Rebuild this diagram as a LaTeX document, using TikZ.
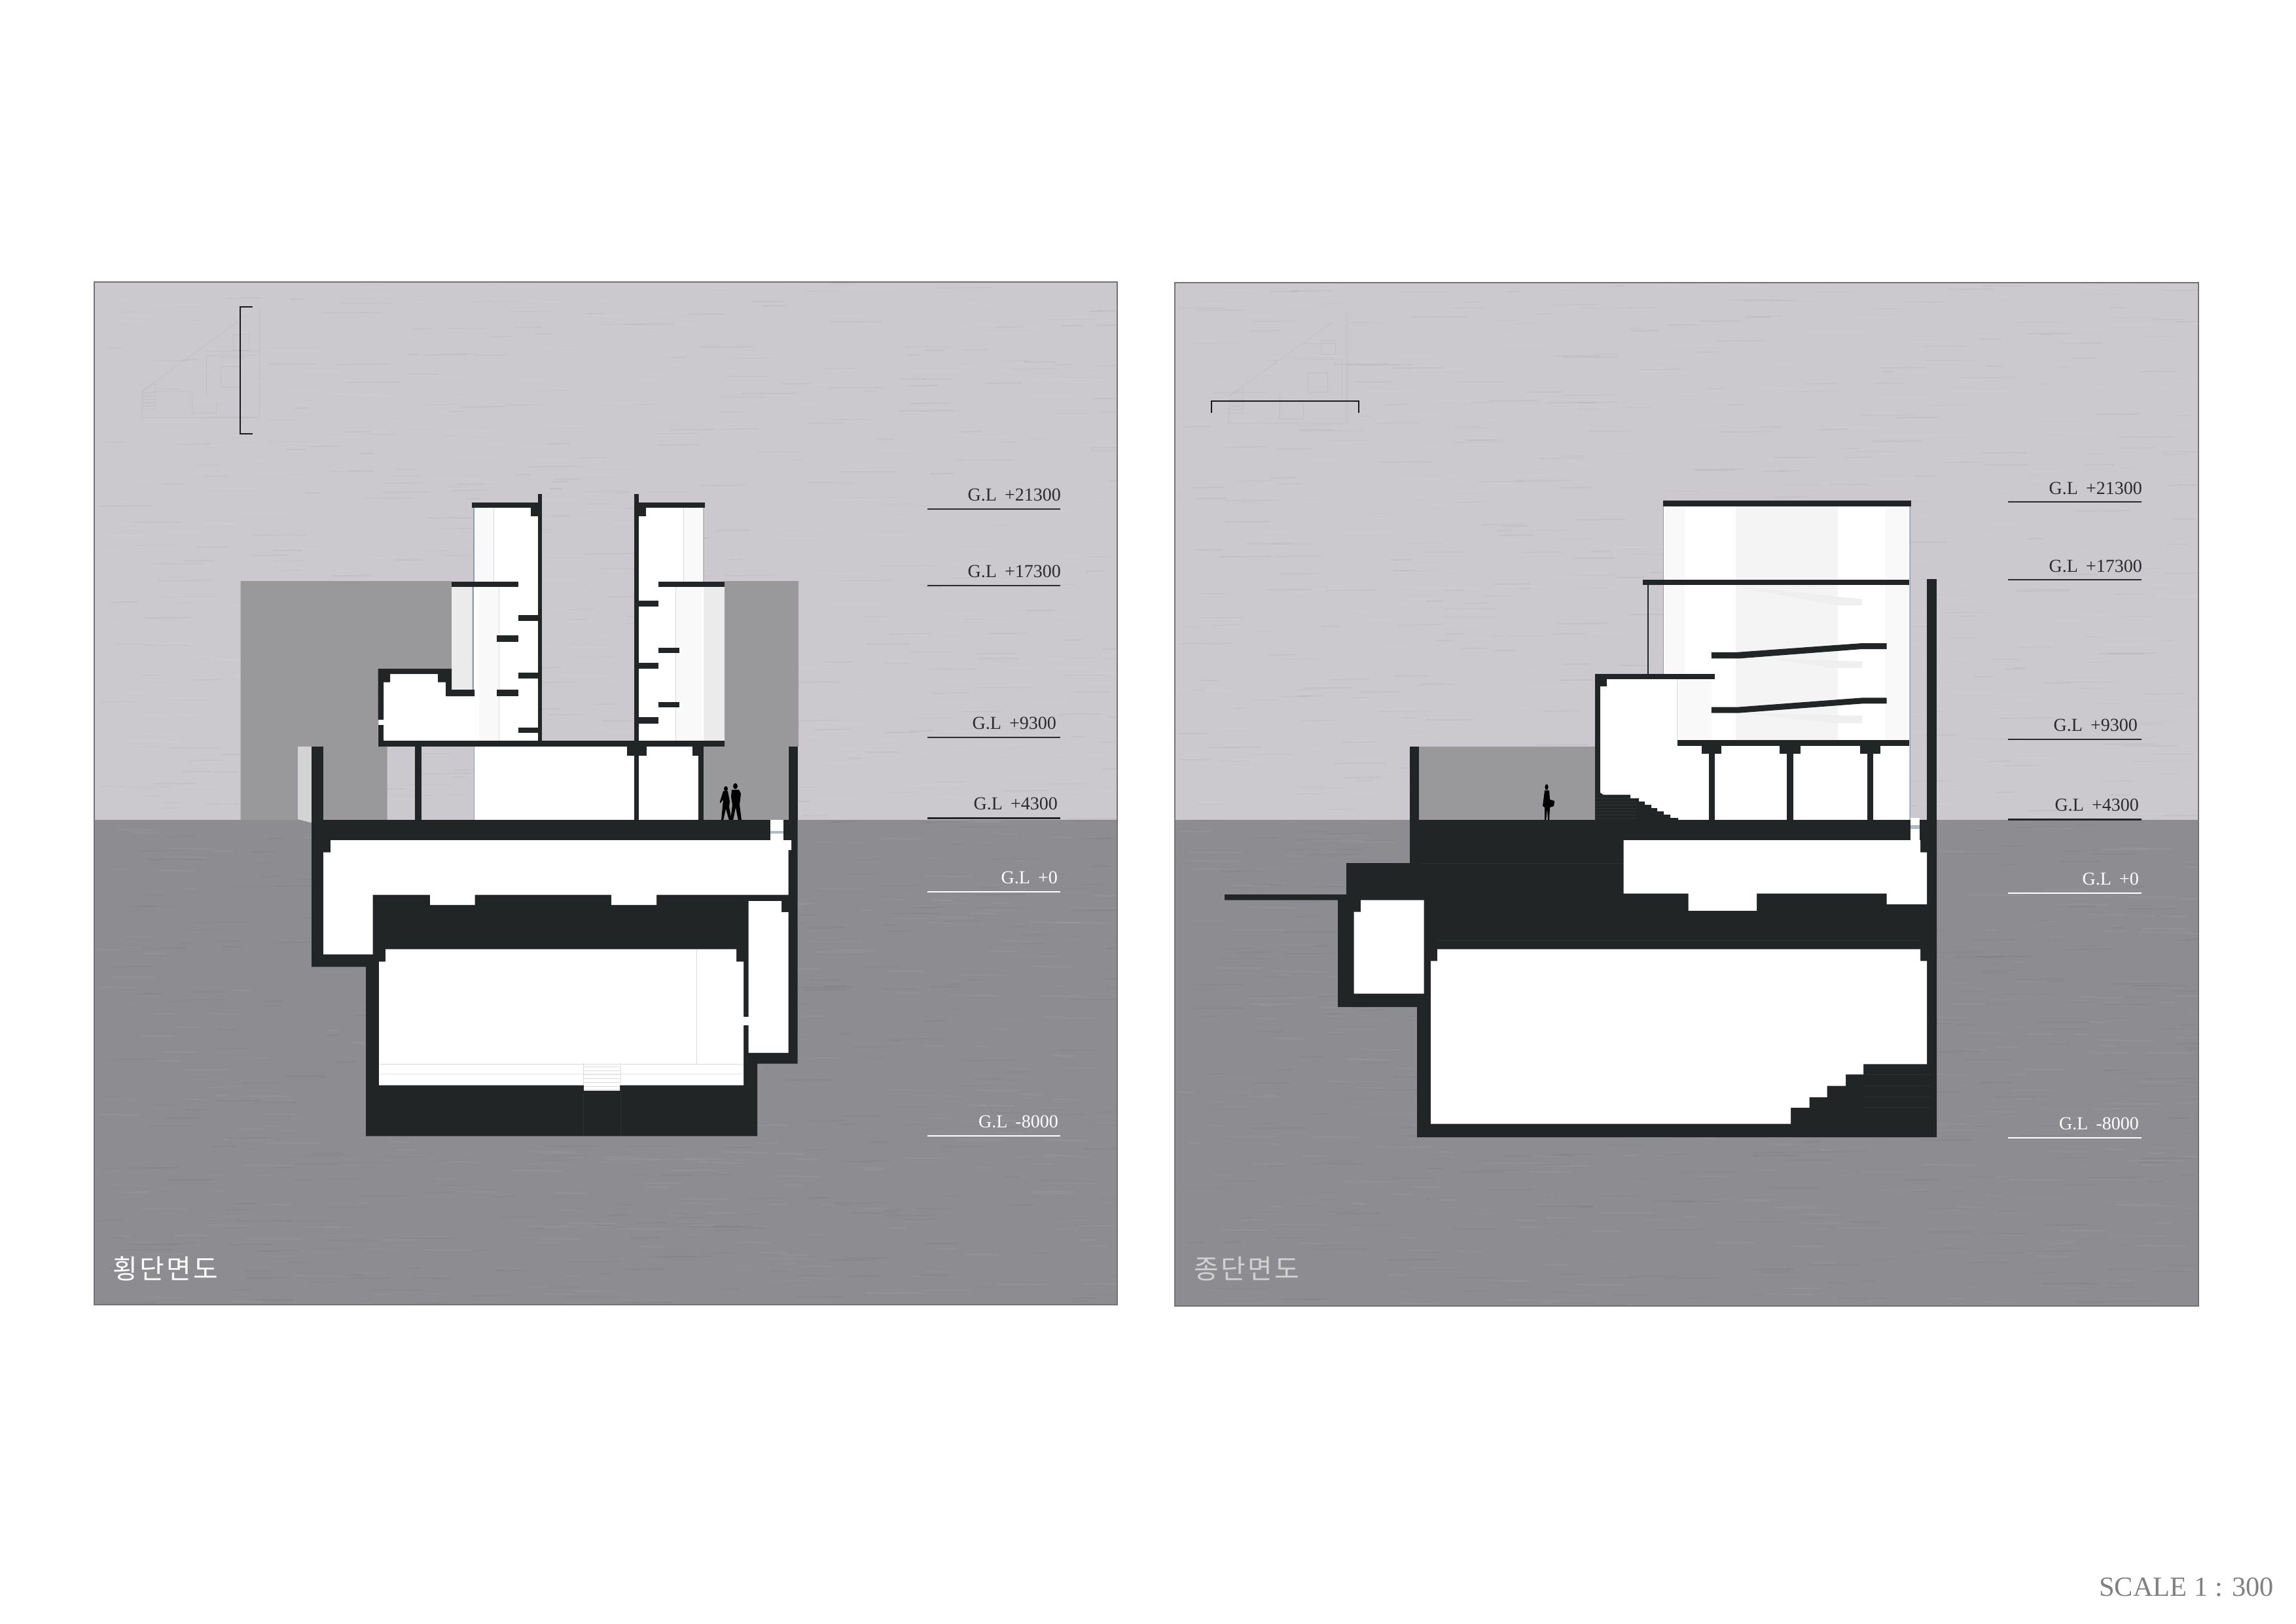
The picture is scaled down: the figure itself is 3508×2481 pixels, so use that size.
\documentclass[tikz,border=0pt]{standalone}
\usepackage{fontspec}
\setmainfont{Liberation Serif}
\newfontfamily\krfont[LetterSpace=8]{Noto Sans CJK KR}
\definecolor{sky}{HTML}{CBC9CD}
\definecolor{soil}{HTML}{8D8C90}
\definecolor{back}{HTML}{99989B}
\definecolor{ink}{HTML}{222526}
\definecolor{inkseam}{HTML}{2E3132}
\definecolor{pale}{HTML}{ECEBEC}
\definecolor{haze}{HTML}{F5F4F5}
\definecolor{hazelite}{HTML}{F9F9FA}
\definecolor{flight}{HTML}{F0EFF0}
\definecolor{glass}{HTML}{8E9CAE}
\definecolor{seam}{HTML}{DADADC}
\definecolor{ghost}{HTML}{C1BFC3}
\definecolor{frame}{HTML}{737275}
\definecolor{dimtxt}{HTML}{2B2B2B}
\tikzset{
 blk/.style={fill=ink},
 wht/.style={fill=white},
 ghostline/.style={draw=ghost,line width=0.7pt},
 seamline/.style={draw=seam,line width=1pt},
 glassline/.style={draw=glass,line width=1.5pt},
 cutline/.style={draw=black!90,line width=2.4pt},
 lvl/.style={inner sep=0pt,anchor=base east,font=\fontsize{28}{30}\selectfont,text=dimtxt},
 lvlw/.style={lvl,text=white},
 lvlrule/.style={draw=dimtxt,line width=1.6pt},
 lvlrulew/.style={draw=white,line width=2pt},
 title/.style={inner sep=0pt,anchor=base west,font=\krfont\fontsize{41}{42}\selectfont},
}
\newcommand{\glgap}{\hspace{12pt}}
\newcommand{\grain}[4]{% x0 y0 x1 y1
 \begin{scope}
 \clip (#1,#2) rectangle (#3,#4);
 \pgfmathsetseed{#1}
 \foreach \i in {1,...,700}{
  \pgfmathsetmacro{\gx}{#1+rnd*(#3-#1)}
  \pgfmathsetmacro{\gy}{#2+rnd*(#4-#2)}
  \pgfmathsetmacro{\gl}{15+rnd*70}
  \pgfmathsetmacro{\gw}{0.8+rnd*1.8}
  \ifodd\i
   \draw[white,opacity=.05,line width=\gw pt,line cap=round] (\gx,\gy) -- ++(\gl,0.5);
  \else
   \draw[black,opacity=.03,line width=\gw pt,line cap=round] (\gx,\gy) -- ++(\gl,-0.5);
  \fi
 }
 \end{scope}}
\begin{document}
\begin{tikzpicture}[x=1pt,y=-1pt]
\useasboundingbox (0,0) rectangle (3508,2481);
\fill[white] (0,0) rectangle (3508,2481);

% ---- panel backgrounds
\fill[sky] (144,431) rectangle (1707,1253);
\fill[soil] (144,1253) rectangle (1707,1994);
\fill[sky] (1795,432) rectangle (3359,1253);
\fill[soil] (1795,1253) rectangle (3359,1996);
\grain{144}{431}{1707}{1253}
\grain{145}{1253}{1707}{1994}
\grain{1795}{432}{3359}{1253}
\grain{1796}{1253}{3359}{1996}
\draw[frame,line width=2pt] (144,431) rectangle (1707,1994);
\draw[frame,line width=2pt] (1795,432) rectangle (3359,1996);

% ---- key plan ghosts, panel 1
\begin{scope}[shift={(130,420)},x=0.3333pt,y=-0.3333pt]
 \draw[ghostline] (258,535) -- (700,215);
 \draw[ghostline] (258,535) -- (258,655) -- (800,655) -- (800,150);
 \draw[ghostline] (265,535) -- (322,495) -- (322,615) -- (265,615) -- cycle;
 \foreach \k in {540,555,570,585,600}{\draw[ghostline] (265,\k) -- (322,\k);}
 \draw[ghostline] (680,275) rectangle (750,345);
 \draw[ghostline] (622,422) rectangle (710,515);
 \draw[ghostline] (555,370) -- (555,560);
 \draw[ghostline] (550,350) -- (800,350);
 \draw[ghostline] (490,535) -- (490,635) -- (602,635) -- (602,585);
\end{scope}
% ---- key plan ghosts, panel 2
\begin{scope}[shift={(1790,420)},x=0.3333pt,y=-0.3333pt]
 \draw[ghostline] (265,555) -- (740,215);
 \draw[ghostline] (260,605) -- (260,680) -- (808,680) -- (808,175);
 \draw[ghostline] (800,175) -- (800,680);
 \draw[ghostline] (265,555) -- (328,520) -- (328,635) -- (265,635) -- cycle;
 \foreach \k in {570,585,600,615}{\draw[ghostline] (265,\k) -- (328,\k);}
 \draw[ghostline] (685,300) rectangle (750,365);
 \draw[ghostline] (625,447) rectangle (715,537);
 \draw[ghostline] (558,387) -- (780,387) -- (780,565);
 \draw[ghostline] (495,550) -- (495,660) -- (605,660) -- (605,585);
\end{scope}

% ---- section cut markers
\draw[cutline] (386,469) -- (367,469) -- (367,663) -- (386,663);
\draw[cutline] (1851,631) -- (1851,613) -- (2076,613) -- (2076,631);

%%%%%%%%%%%%%%%%%%%%%%%%%%%%%%%%%%%% PANEL 1 (cross section)
% back walls
\fill[back] (367.5,888) -- (690,888) -- (690,1022) -- (577.5,1022) -- (577.5,1141) -- (591.6,1141) -- (591.6,1253) -- (367.5,1253) -- cycle;
\fill[back] (1106.5,888) -- (1220,888) -- (1220,1141) -- (1204.5,1141) -- (1204.5,1253) -- (1075,1253) -- (1075,1141) -- (1106.5,1141) -- cycle;
% pale panels
\fill[pale] (690,897) rectangle (721,1054);
\fill[pale] (1075,897) rectangle (1106.5,1132);
\fill[fill=pale!90!black] (455,1141) -- (476,1141) -- (476,1257.5) -- (455,1252) -- cycle;
% white interiors above ground
\fill[wht] (724,776) rectangle (822.4,1132);
\fill[wht] (976,776) rectangle (1075,1132);
\fill[wht] (586,1042.5) -- (596,1042.5) -- (596,1030) -- (669,1030) -- (669,1042.5) -- (681,1042.5) -- (681,1064) -- (725,1064) -- (725,1132) -- (586,1132) -- cycle;
\fill[wht] (724.5,1141) rectangle (969,1253);
\fill[wht] (976,1141) rectangle (1067,1253);
% tower haze
\fill[hazelite] (725,776) rectangle (754,889);
\fill[hazelite] (732,897) rectangle (762,1132);
\fill[hazelite] (1044,776) rectangle (1073,889);
\fill[hazelite] (1032,897) rectangle (1073,1132);
\draw[seamline] (754.5,776) -- (754.5,889);
\draw[seamline] (1044,776) -- (1044,889);
\draw[seamline] (762,897) -- (762,1132);
\draw[seamline] (1032,897) -- (1032,1132);
\draw[glassline] (724,776) -- (724,889);
\draw[glassline] (723,897) -- (723,1054);
\draw[glassline] (724.5,1141) -- (724.5,1253);
\draw[draw=seam!85!black,line width=1.2pt] (1075,776) -- (1075,889);
% black structure above ground
\fill[blk] (721,768) rectangle (828,776.4);
\fill[blk] (811,776) rectangle (822.4,789);
\fill[blk] (822.4,754.6) rectangle (828,1132);
\fill[blk] (969,754.6) rectangle (976,1132);
\fill[blk] (969,768) rectangle (1076.5,776.4);
\fill[blk] (976,776) rectangle (987,789);
\fill[blk] (690,889) rectangle (792,897);
\fill[blk] (1006,889) rectangle (1106.5,897);
\fill[blk] (792,940) rectangle (822.4,948.6);
\fill[blk] (759.4,971) rectangle (792,981);
\fill[blk] (792,1028) rectangle (822.4,1037);
\fill[blk] (759.4,1054) rectangle (792,1064);
\fill[blk] (792,1112) rectangle (822.4,1120);
\fill[blk] (976,918) rectangle (1006,927);
\fill[blk] (1006,990) rectangle (1038,998);
\fill[blk] (976,1013) rectangle (1006,1022);
\fill[blk] (1006,1072.5) rectangle (1038,1081.4);
\fill[blk] (976,1096.4) rectangle (1006,1105.7);
% low wing
\fill[blk] (577.5,1022) -- (690,1022) -- (690,1054) -- (725,1054) -- (725,1064) -- (681,1064) -- (681,1042.5) -- (669,1042.5) -- (669,1030) -- (596,1030) -- (596,1042.5) -- (586,1042.5) -- (586,1100) -- (577.5,1100) -- cycle;
\fill[blk] (577.5,1108) rectangle (586,1132);
\fill[white] (579,1100) rectangle (586,1108);
\fill[blk] (577.5,1132) rectangle (1106.5,1141.4);
% columns and walls at ground floor
\fill[blk] (476,1141) rectangle (494,1253);
\fill[blk] (1204.5,1141) rectangle (1218.6,1253);
\fill[blk] (634,1141) rectangle (644,1253);
\fill[blk] (958.4,1141) rectangle (988,1155);
\fill[blk] (969,1155) rectangle (976,1253);
\fill[blk] (1057.5,1141) rectangle (1075,1155);
\fill[blk] (1067,1155) rectangle (1075,1253);
% people
\fill[black] (1109,1205.5) ellipse [x radius=3,y radius=4];
\fill[black] (1105,1209) -- (1112,1209) -- (1115,1225) -- (1114,1233) -- (1118,1254) -- (1114,1254) -- (1109,1236) -- (1105,1254) -- (1102,1254) -- (1104,1232) -- (1105,1222) -- (1100,1228) -- (1100,1225) -- cycle;
\fill[black] (1123.5,1201.5) ellipse [x radius=3.5,y radius=4.5];
\fill[black] (1118,1207) -- (1129,1207) -- (1132,1213) -- (1130,1230) -- (1133,1254) -- (1128,1254) -- (1124,1234) -- (1120,1254) -- (1116,1254) -- (1119,1230) -- (1117,1218) -- cycle;
% below ground
\fill[blk] (476,1253) -- (1218.6,1253) -- (1218.6,1625.7) -- (1157,1625.7) -- (1157,1736.4) -- (559,1736.4) -- (559,1477.5) -- (476,1477.5) -- cycle;
\fill[wht] (1176.6,1253) rectangle (1197,1284);
\fill[glass!70!white] (1176.6,1270) rectangle (1197,1274);
\fill[wht] (505,1284) -- (1209,1284) -- (1209,1299) -- (1204.5,1299) -- (1204.5,1367.5) -- (1003,1367.5) -- (1003,1383) -- (934,1383) -- (934,1367.5) -- (725.7,1367.5) -- (725.7,1383) -- (657,1383) -- (657,1367.5) -- (569.6,1367.5) -- (569.6,1458.6) -- (494,1458.6) -- (494,1302.5) -- (505,1302.5) -- cycle;
\fill[wht] (1143.5,1377) -- (1194,1377) -- (1194,1394) -- (1204.5,1394) -- (1204.5,1609) -- (1143.5,1609) -- cycle;
\fill[wht] (589,1450.7) -- (1125,1450.7) -- (1125,1469.6) -- (1136,1469.6) -- (1136,1658.6) -- (947,1658.6) -- (947,1666.8) -- (892,1666.8) -- (892,1658.6) -- (579,1658.6) -- (579,1469.6) -- (589,1469.6) -- cycle;
\fill[wht] (1136,1553.6) rectangle (1143.5,1566.8);
\draw[seamline] (1064.5,1451) -- (1064.5,1626.4);
\draw[seamline] (580,1626.4) -- (1135,1626.4);
\fill[haze] (580,1640) rectangle (1135,1643);
\foreach \k in {1630,1636,1642,1648,1654,1660,1665}{\draw[seamline,line width=.7pt] (892,\k) -- (947,\k);}
\draw[seamline,line width=.7pt] (891,1625) -- (891,1658);
\draw[seamline,line width=.7pt] (948,1625) -- (948,1658);
\draw[draw=inkseam,line width=1pt] (891,1671) -- (891,1736);
\draw[draw=inkseam,line width=1pt] (948,1671) -- (948,1736);

%%%%%%%%%%%%%%%%%%%%%%%%%%%%%%%%%%%% PANEL 2 (longitudinal section)
\fill[back] (2168.4,1141) rectangle (2437,1253);
\fill[wht] (2541,774) rectangle (2917,1130.7);
\fill[wht] (2444.5,1048.6) -- (2454.7,1048.6) -- (2454.7,1038) -- (2562.5,1038) -- (2562.5,1139.6) -- (2917,1139.6) -- (2917,1253) -- (2444.5,1253) -- cycle;
\fill[wht] (2562.5,1038) rectangle (2620,1130.7);
% haze bands
\fill[hazelite] (2543,774) rectangle (2574,1030);
\fill[haze] (2652,774) rectangle (2808,1130.7);
\fill[hazelite] (2880,774) rectangle (2917,1130.7);
\fill[hazelite] (2562.5,1038) rectangle (2615,1130.7);
\fill[flight] (2679,898) -- (2845,915.7) -- (2845,925) -- (2807,925) -- (2657,898) -- cycle;
\fill[flight] (2702,1006) -- (2845,1011) -- (2845,1020.7) -- (2797,1020.7) -- cycle;
\fill[flight] (2670,1090) -- (2845,1094) -- (2845,1105) -- (2797,1105) -- cycle;
\draw[seamline] (2562.5,1038) -- (2562.5,1130);
\draw[glassline] (2541.5,774) -- (2541.5,1030);
\draw[glassline] (2918.5,774) -- (2918.5,1253);
% black above ground
\fill[blk] (2540.9,765) rectangle (2920,773.6);
\fill[blk] (2510,886) rectangle (2917,894);
\fill[ink] (2517.2,894) rectangle (2518.8,1030);
\fill[blk] (2944,885) rectangle (2959,1253);
\fill[blk] (2153.7,1141) rectangle (2168.4,1253);
\fill[blk] (2437,1030) rectangle (2620,1038);
\fill[blk] (2437,1030) rectangle (2444.5,1253);
\fill[blk] (2444.5,1038) rectangle (2454.7,1048.6);
\fill[blk] (2562.5,1130.7) rectangle (2917,1139.6);
\fill[blk] (2599.5,1139.6) rectangle (2629.5,1152);
\fill[blk] (2719.4,1139.6) rectangle (2751,1152);
\fill[blk] (2842,1139.6) rectangle (2872.5,1152);
\fill[blk] (2611,1152) rectangle (2620,1253);
\fill[blk] (2730,1152) rectangle (2739.8,1253);
\fill[blk] (2852.7,1152) rectangle (2862,1253);
% sloped stairs
\fill[blk] (2614.8,996.8) -- (2654,996.8) -- (2845,983) -- (2882.7,983) -- (2882.7,992) -- (2845,992) -- (2657,1006.4) -- (2614.8,1006.4) -- cycle;
\fill[blk] (2614.8,1080.7) -- (2654,1080.7) -- (2845,1066.4) -- (2882.7,1066.4) -- (2882.7,1075.4) -- (2845,1075.4) -- (2657,1089.6) -- (2614.8,1089.6) -- cycle;
% entrance stair
\fill[blk] (2437,1211) -- (2444.5,1211) -- (2449.6,1214.6) -- (2491,1214.6) -- (2491,1220) -- (2504,1220) -- (2504,1225) -- (2513,1225) -- (2513,1230) -- (2523,1230) -- (2523,1235) -- (2532,1235) -- (2532,1240) -- (2542,1240) -- (2542,1245) -- (2552,1245) -- (2552,1250) -- (2564,1250) -- (2564,1253) -- (2437,1253) -- cycle;
\foreach \k in {1220,1225,1230,1235,1240,1245,1250}{\draw[draw=inkseam,line width=.8pt] (2437,\k) -- (2500,\k);}
% person
\fill[black] (2363,1203) ellipse [x radius=2.6,y radius=4.5];
\fill[black] (2360,1208) -- (2367,1208) -- (2368,1222) -- (2375,1224) -- (2374,1232) -- (2368,1234) -- (2367,1254) -- (2365,1254) -- (2364,1236) -- (2362,1254) -- (2360,1254) -- (2360,1234) -- (2357,1232) -- cycle;
% below ground
\fill[blk] (2154,1253) -- (2959,1253) -- (2959,1738) -- (2165,1738) -- (2165,1539) -- (2044,1539) -- (2044,1375.7) -- (1871,1375.7) -- (1871,1367) -- (2057,1367) -- (2057,1319) -- (2154,1319) -- cycle;
\fill[wht] (2919,1250) rectangle (2932.5,1284);
\fill[glass!70!white] (2919,1261) rectangle (2932.5,1267);
\fill[wht] (2480.7,1284) -- (2934,1284) -- (2934,1302.5) -- (2944,1302.5) -- (2944,1382) -- (2882.6,1382) -- (2882.6,1365.7) -- (2684,1365.7) -- (2684,1391.8) -- (2579.7,1391.8) -- (2579.7,1365.7) -- (2480.7,1365.7) -- cycle;
\fill[wht] (2079,1375.7) -- (2175.6,1375.7) -- (2175.6,1518.6) -- (2068.5,1518.6) -- (2068.5,1393.6) -- (2079,1393.6) -- cycle;
\fill[wht] (2196,1450.7) -- (2934,1450.7) -- (2934,1468.6) -- (2944,1468.6) -- (2944,1626.4) -- (2847,1626.4) -- (2847,1642) -- (2820,1642) -- (2820,1659.6) -- (2791.7,1659.6) -- (2791.7,1676.8) -- (2764.5,1676.8) -- (2764.5,1692.9) -- (2736,1692.9) -- (2736,1717.5) -- (2186,1717.5) -- (2186,1468.6) -- (2196,1468.6) -- cycle;
\foreach \k in {1642,1659.6,1676.8,1692.9}{\draw[draw=inkseam,line width=1pt] (2847,\k) -- (2950,\k);}
\draw[draw=inkseam,line width=1pt] (2170,1319) -- (2480,1319);
\draw[draw=inkseam,line width=1pt] (2196,1437) -- (2935,1437);

%%%%%%%%%%%%%%%%%%%%%%%%%%%%%%%%%%%% LEVELS
\node[lvl] (a1) at (1621,765.5) {G.L\glgap+21300};
\draw[lvlrule] (1417,777.7) -- (1620,777.7);
\node[lvl] (a2) at (1621,882.5) {G.L\glgap+17300};
\draw[lvlrule] (1417,894.7) -- (1620,894.7);
\node[lvl] (a3) at (1614,1114.5) {G.L\glgap+9300};
\draw[lvlrule] (1417,1127) -- (1620,1127);
\node[lvl] (a4) at (1616,1237.5) {G.L\glgap+4300};
\draw[draw=ink,line width=3pt] (1417,1250) -- (1620,1250);
\node[lvlw] (a5) at (1616,1350) {G.L\glgap+0};
\draw[lvlrulew] (1417,1362.7) -- (1620,1362.7);
\node[lvlw] (a6) at (1617,1723) {G.L\glgap-8000};
\draw[lvlrulew] (1417,1736) -- (1620,1736);

\node[lvl] (b1) at (3273,755) {G.L\glgap+21300};
\draw[lvlrule] (3068,767) -- (3272,767);
\node[lvl] (b2) at (3273,874) {G.L\glgap+17300};
\draw[lvlrule] (3068,886) -- (3272,886);
\node[lvl] (b3) at (3266,1117.5) {G.L\glgap+9300};
\draw[lvlrule] (3068,1130) -- (3272,1130);
\node[lvl] (b4) at (3268,1239.5) {G.L\glgap+4300};
\draw[draw=ink,line width=3pt] (3068,1252) -- (3272,1252);
\node[lvlw] (b5) at (3268,1352.5) {G.L\glgap+0};
\draw[lvlrulew] (3068,1365) -- (3272,1365);
\node[lvlw] (b6) at (3268,1726) {G.L\glgap-8000};
\draw[lvlrulew] (3068,1739) -- (3272,1739);

%%%%%%%%%%%%%%%%%%%%%%%%%%%%%%%%%%%% TITLES
\node[title,text=white] (t1) at (172,1954) {횡단면도};
\node[title,text=black!18] (t2) at (1824,1954) {종단면도};
\node[inner sep=0pt,anchor=base east,font=\fontsize{42.5}{44}\selectfont,text=black!50] (s) at (3474,2439) {SCALE 1 : 300};
\end{tikzpicture}
\end{document}
